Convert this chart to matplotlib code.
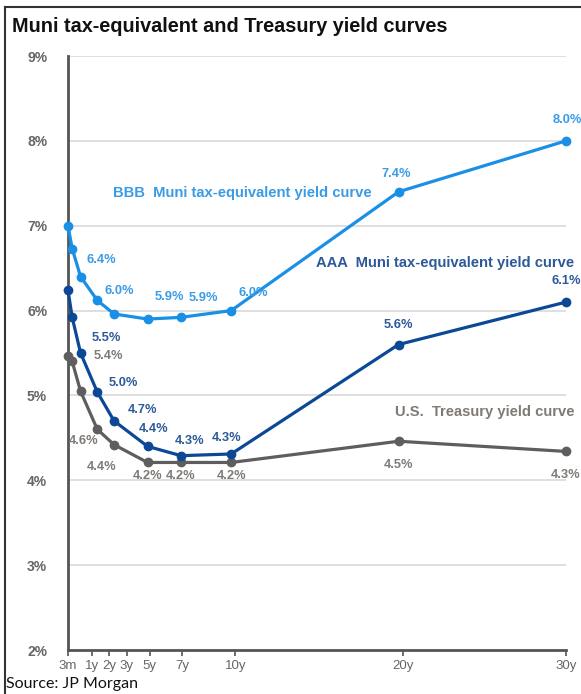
import matplotlib.pyplot as plt
from matplotlib.lines import Line2D

# maturities in years and tick labels
maturity = [0.25, 0.5, 1, 2, 3, 5, 7, 10, 20, 30]
tick_labels = ["3m", "1y", "2y", "3y", "5y", "7y", "10y", "20y", "30y"]
tick_pos = [0.25, 1.68, 2.70, 3.77, 5.12, 7.05, 10.25, 20.25, 30]

# yields (%)
bbb = [7.00, 6.73, 6.40, 6.12, 5.96, 5.90, 5.92, 6.00, 7.40, 8.00]
aaa = [6.24, 5.92, 5.50, 5.04, 4.70, 4.40, 4.29, 4.31, 5.60, 6.10]
tsy = [5.47, 5.40, 5.05, 4.60, 4.42, 4.21, 4.21, 4.21, 4.46, 4.34]

# which points carry a value label, and where the label sits (pixel offsets)
bbb_lab = {2: (21, 17), 4: (5, 23), 5: (22, 22), 6: (22, 19), 7: (22, 18), 8: (-2, 18), 9: (1, 21)}
aaa_lab = {2: (26, 15), 3: (26, 9), 4: (28, 11), 5: (6, 17), 6: (9, 15), 7: (-5, 16), 8: (0, 20), 9: (0, 21)}
tsy_lab = {1: (36, 5), 3: (-14, -12), 4: (-12, -22), 5: (0, -14), 6: (0, -14), 7: (0, -14), 8: (0, -24), 9: (0, -24)}

C_BBB, C_AAA, C_TSY = "#1a8fe6", "#0c4896", "#5e5e5e"
L_BBB, L_AAA, L_TSY = "#3a9be6", "#2c5a98", "#7f7a76"

W, H = 581, 694

plt.rcParams["font.family"] = ["Liberation Sans", "DejaVu Sans"]

fig = plt.figure(figsize=(W / 100, H / 100), dpi=100)
ax = fig.add_axes([68 / W, 1 - 650 / H, (566 - 68) / W, (650 - 56) / H])

for y, col in [(tsy, C_TSY), (aaa, C_AAA), (bbb, C_BBB)]:
    ax.plot(maturity, y, color=col, lw=2.3, marker="o", ms=6, zorder=3,
            solid_joinstyle="round", clip_on=False)


def put_labels(vals, spots, col):
    for i, (dx, dy) in spots.items():
        ax.annotate(f"{vals[i]:.1f}%", (maturity[i], vals[i]), xytext=(dx, dy),
                    textcoords="offset pixels", ha="center", va="center",
                    color=col, fontsize=9.3, fontweight="bold", zorder=4)


put_labels(bbb, bbb_lab, L_BBB)
put_labels(aaa, aaa_lab, L_AAA)
put_labels(tsy, tsy_lab, L_TSY)


def fig_text(x, y, s, **kw):
    # place text by pixel position measured from the top-left corner
    return fig.text(x / W, 1 - y / H, s, **kw)


# curve names
name_kw = dict(fontsize=10.6, fontweight="bold", va="center", ha="left")
fig_text(113, 193, "BBB  Muni tax-equivalent yield curve", color=L_BBB, **name_kw)
fig_text(316, 263, "AAA  Muni tax-equivalent yield curve", color=L_AAA, **name_kw)
fig_text(395, 412, "U.S.  Treasury yield curve", color=L_TSY, **name_kw)

ax.set_xlim(0.25, 30)
ax.set_ylim(2, 9)
ax.set_yticks(range(2, 10))
ax.set_yticklabels([f"{v}%" for v in range(2, 10)], color="#666666",
                   fontsize=10, fontweight="bold")
ax.set_xticks(tick_pos)
ax.set_xticklabels(tick_labels, color="#666666", fontsize=9.5)
ax.tick_params(axis="y", length=0, pad=15)
ax.tick_params(axis="x", length=4, width=1.2, color="#555555", pad=3)

ax.grid(axis="y", color="#d9d9d9", lw=1.2)
ax.set_axisbelow(True)
for s in ["top", "right"]:
    ax.spines[s].set_visible(False)
for s in ["left", "bottom"]:
    ax.spines[s].set_color("#555555")
    ax.spines[s].set_linewidth(2)

fig_text(12, 27, "Muni tax-equivalent and Treasury yield curves",
         fontsize=14.3, fontweight="bold", va="center", color="#111111")
fig_text(6, 684, "Source: JP Morgan", family=["Lato", "DejaVu Sans"],
         fontsize=11.5, va="center", color="#111111")

# frame around the exhibit
fig.add_artist(Line2D([5 / W, 5 / W], [0, 1 - 7 / H], color="#333333", lw=1.5))
fig.add_artist(Line2D([5 / W, 1], [1 - 7 / H, 1 - 7 / H], color="#333333", lw=1.5))

fig.savefig("out.png", dpi=100)
